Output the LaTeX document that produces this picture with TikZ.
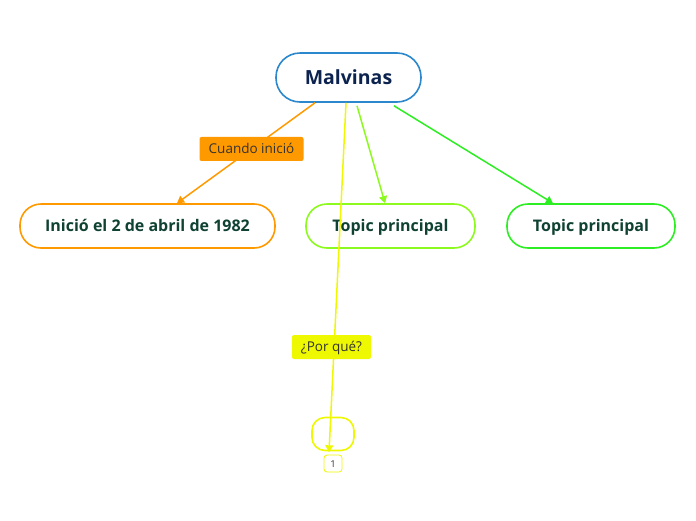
\documentclass[tikz,border=0pt]{standalone}
\usepackage{fontspec}
\setmainfont{Open Sans}
\usetikzlibrary{arrows.meta}
\definecolor{cblue}{HTML}{2B88CC}
\definecolor{corange}{HTML}{FF9900}
\definecolor{clime}{HTML}{8CFA1E}
\definecolor{cgreen}{HTML}{2CEE22}
\definecolor{cyellow}{HTML}{EEF800}
\definecolor{ctext}{HTML}{0F4232}
\definecolor{cnavy}{HTML}{0C2350}
\definecolor{clabel}{HTML}{333333}
\tikzset{
  topicbox/.style={draw, line width=1.6pt, fill=white, rounded corners=21pt,
    minimum height=44pt, inner sep=0pt, text=ctext, text height=11.4pt, text depth=0pt,
    font=\fontsize{16}{18}\selectfont\bfseries},
  lbl/.style={rounded corners=2pt, inner sep=0pt, minimum height=24pt, text=clabel,
    text height=9.6pt, text depth=0pt, font=\fontsize{13.5}{15}\selectfont},
  conn/.style={line width=1.5pt, -{Triangle[width=8pt,length=7pt]}},
}
\begin{document}
\begin{tikzpicture}[x=1pt,y=-1pt]
\useasboundingbox (0,0) rectangle (696,520);
\node[topicbox, draw=cblue, minimum width=145pt, minimum height=49pt, rounded corners=24pt,
  text=cnavy, text height=14pt, font=\fontsize{19.5}{22}\selectfont\bfseries] (malv) at (348.5,77.5) {Malvinas};
\node[topicbox, draw=corange, minimum width=255pt] (inicio) at (147.5,226) {Inició el 2 de abril de 1982};
\node[topicbox, draw=clime, minimum width=169pt] (tp1) at (390.5,226) {Topic principal};
\node[topicbox, draw=cgreen, minimum width=168pt] (tp2) at (591,226) {Topic principal};
\node[draw=cyellow, line width=1.6pt, fill=white, rounded corners=13pt, minimum width=42pt,
  minimum height=33pt, inner sep=0pt] (empty) at (333,434) {};
\node[draw=cyellow, line width=0.8pt, fill=white, rounded corners=3pt, minimum width=18pt,
  minimum height=17pt, inner sep=0pt, text=clabel, text height=7pt, text depth=0pt,
  font=\fontsize{9.5}{10}\selectfont] (badge) at (333,463.5) {1};

\coordinate (oS) at ([xshift=-33.5pt]malv.south);
\coordinate (yS) at ([xshift=-2.5pt]malv.south);
\coordinate (lS) at ([xshift=8.5pt,yshift=-3pt]malv.south);
\coordinate (gS) at ([xshift=45.5pt,yshift=-3pt]malv.south);

\draw[conn, color=corange] (oS) -- ([xshift=29.5pt]inicio.north)
  node[pos=0.46, lbl, fill=corange, minimum width=104pt] (lcuando) {Cuando inició};
\draw[conn, color=cyellow] (yS) -- ([xshift=-4pt,yshift=-1pt]empty.south);
\node[lbl, fill=cyellow, minimum width=79pt] (lpor) at (331.5,347) {¿Por qué?};
\draw[conn, color=clime] (lS) -- ([xshift=-5.5pt]tp1.north);
\draw[conn, color=cgreen] (gS) -- ([xshift=-38pt]tp2.north);
\end{tikzpicture}
\end{document}
